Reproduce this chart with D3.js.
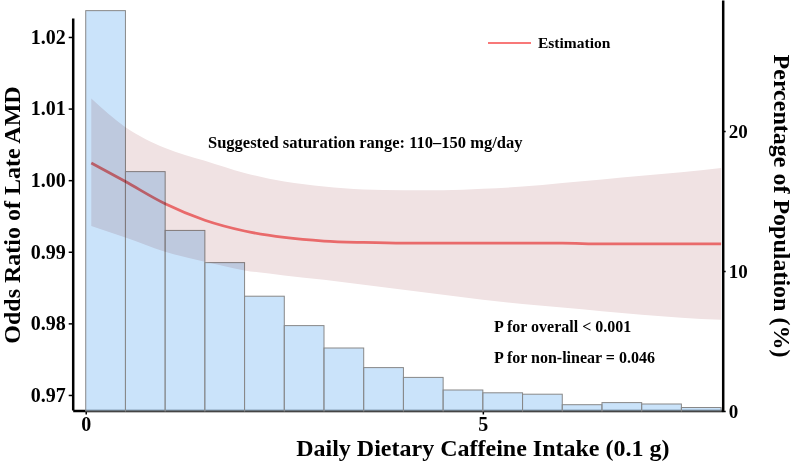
<!DOCTYPE html>
<html>
<head>
<meta charset="utf-8">
<script src="https://cdn.jsdelivr.net/npm/d3@7"></script>
<style>
  body { margin: 0; background: #fff; }
  text { font-family: "Liberation Serif", "Times New Roman", serif; font-weight: bold; }
</style>
</head>
<body>
<div id="main-container"></div>
<script>
// DATA
const binStart = [0, 0.5, 1, 1.5, 2, 2.5, 3, 3.5, 4, 4.5, 5, 5.5, 6, 6.5, 7, 7.5];
const binWidth = 0.5;
const pctPopulation = [28.6, 17.1, 12.9, 10.6, 8.2, 6.1, 4.5, 3.1, 2.4, 1.5, 1.3, 1.2, 0.45, 0.6, 0.5, 0.25];

const intake = [0.07, 0.5, 1, 1.5, 2, 2.5, 3, 3.5, 4, 4.5, 5, 5.5, 6, 6.5, 7, 7.5, 8];
const estimate = [1.0024, 0.9998, 0.9967, 0.9944, 0.9929, 0.9920, 0.9915, 0.9913, 0.9912, 0.9912, 0.9912, 0.9912, 0.9912, 0.9911, 0.9911, 0.9911, 0.9911];
const upperCI = [1.0114, 1.0074, 1.0045, 1.0027, 1.0010, 0.9998, 0.9991, 0.9987, 0.9986, 0.9986, 0.9988, 0.9991, 0.9996, 1.0001, 1.0006, 1.0011, 1.0017];
const lowerCI = [0.9936, 0.9920, 0.9900, 0.9886, 0.9874, 0.9867, 0.9861, 0.9854, 0.9847, 0.9840, 0.9833, 0.9827, 0.9822, 0.9817, 0.9812, 0.9808, 0.9805];

const oddsTicks = [0.97, 0.98, 0.99, 1.00, 1.01, 1.02];
const pctTicks = [0, 10, 20];
const xTicks = [0, 5];

// SETUP
const width = 794, height = 464;

const svg = d3.select("#main-container")
    .append("svg")
        .attr("width", width)
        .attr("height", height);

const xAxis = d3.scaleLinear().domain([-0.164, 8.02]).range([72.7, 722.7]);
const yOdds = d3.scaleLinear().domain([0.9679, 1.02265]).range([410, 18]);
const yPct = d3.scaleLinear().domain([0, 29.36]).range([411, 0]);

// axes first, bars are drawn over them semi-transparent
svg.append("g")
    .attr("id", "x-axis")
    .attr("transform", `translate(0, 410.5)`)
    .call(d3.axisBottom(xAxis).tickValues(xTicks).tickSizeInner(4).tickSizeOuter(0).tickPadding(2).tickFormat(d3.format("d")))
    .call(g => g.select(".domain").attr("stroke-width", 2.5))
    .call(g => g.selectAll(".tick line").attr("stroke-width", 1.5))
    .selectAll("text")
        .style("font-size", "20px");

svg.append("g")
    .attr("id", "y-axis")
    .attr("transform", `translate(72.7, 0)`)
    .call(d3.axisLeft(yOdds).tickValues(oddsTicks).tickSizeInner(4).tickSizeOuter(0).tickPadding(3).tickFormat(d3.format(".2f")))
    .call(g => g.select(".domain").attr("stroke-width", 2.5))
    .call(g => g.selectAll(".tick line").attr("stroke-width", 1.5))
    .selectAll("text")
        .style("font-size", "20px");

svg.append("g")
    .attr("id", "y-axis-right")
    .attr("transform", `translate(722.7, 0)`)
    .call(d3.axisRight(yPct).tickValues(pctTicks).tickSizeInner(3).tickSizeOuter(0).tickPadding(3).tickFormat(d3.format("d")))
    .call(g => g.select(".domain").attr("stroke-width", 2.5))
    .call(g => g.selectAll(".tick line").attr("stroke-width", 1.5))
    .selectAll("text")
        .style("font-size", "19px");

// histogram
svg.selectAll("bars")
    .data(binStart)
    .enter()
    .append("rect")
        .attr("x", (d) => xAxis(d))
        .attr("y", (d, i) => yPct(pctPopulation[i]))
        .attr("width", xAxis(binWidth) - xAxis(0))
        .attr("height", (d, i) => yPct(0) - yPct(pctPopulation[i]))
        .attr("fill", "rgba(150, 200, 245, 0.5)")
        .attr("stroke", "#888")
        .attr("stroke-width", 1);

// confidence band
const band = d3.area()
    .x((d, i) => xAxis(intake[i]))
    .y0((d, i) => yOdds(lowerCI[i]))
    .y1((d, i) => yOdds(upperCI[i]))
    .curve(d3.curveMonotoneX);

svg.append("path")
    .datum(intake)
    .attr("d", band)
    .attr("fill", "#f0e2e3")
    .style("mix-blend-mode", "multiply");

const line = d3.line()
    .x((d, i) => xAxis(intake[i]))
    .y((d, i) => yOdds(estimate[i]))
    .curve(d3.curveMonotoneX);

svg.append("path")
    .datum(intake)
    .attr("d", line)
    .attr("fill", "none")
    .attr("stroke", "#f87878")
    .attr("stroke-width", 2.8)
    .style("mix-blend-mode", "multiply");

// legend
svg.append("line")
    .attr("x1", 488).attr("x2", 531)
    .attr("y1", 43).attr("y2", 43)
    .attr("stroke", "#f87878")
    .attr("stroke-width", 2);
svg.append("text")
    .attr("x", 538).attr("y", 48)
    .style("font-size", "15.5px")
    .text("Estimation");

// annotations
svg.append("text")
    .attr("x", 208).attr("y", 148)
    .style("font-size", "16.5px")
    .text("Suggested saturation range: 110–150 mg/day");
svg.append("text")
    .attr("x", 494).attr("y", 332)
    .style("font-size", "16px")
    .text("P for overall < 0.001");
svg.append("text")
    .attr("x", 494).attr("y", 363)
    .style("font-size", "16px")
    .text("P for non-linear = 0.046");

// axis titles
svg.append("text")
    .attr("x", xAxis(5)).attr("y", 456)
    .attr("text-anchor", "middle")
    .style("font-size", "24px")
    .text("Daily Dietary Caffeine Intake (0.1 g)");

svg.append("text")
    .attr("transform", "translate(20, 215)rotate(-90)")
    .attr("text-anchor", "middle")
    .style("font-size", "24px")
    .text("Odds Ratio of Late AMD");

svg.append("text")
    .attr("transform", "translate(774, 206)rotate(90)")
    .attr("text-anchor", "middle")
    .style("font-size", "24px")
    .text("Percentage of Population (%)");
</script>
</body>
</html>
